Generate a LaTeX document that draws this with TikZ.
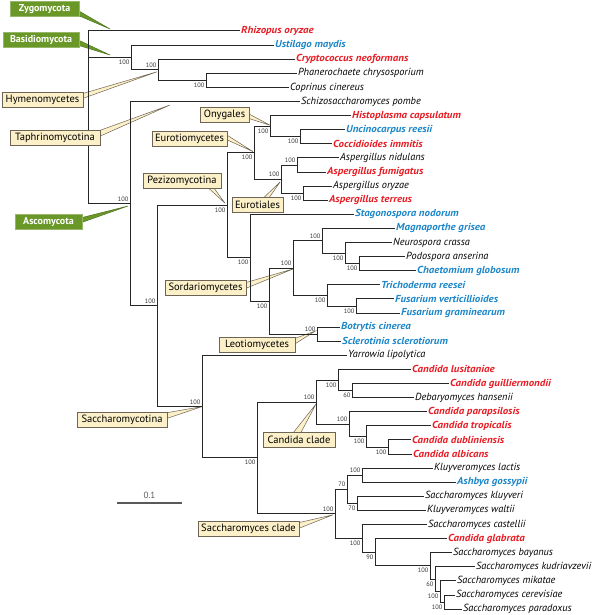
\documentclass[tikz,border=0pt]{standalone}
\usepackage{fontspec}
\setmainfont{PT Sans}
\newfontfamily\spwide{PT Sans}[FakeStretch=1.08]
\usetikzlibrary{calc,backgrounds}
\definecolor{pathred}{RGB}{232,28,36}
\definecolor{plantblue}{RGB}{28,134,200}
\definecolor{tagbeige}{RGB}{252,240,200}
\definecolor{tagedge}{RGB}{110,100,85}
\definecolor{phylgreen}{RGB}{106,152,40}

\tikzset{
  branch/.style={line width=1pt, black!85},
  plainsp/.style={anchor=west, inner sep=1pt, font=\fontsize{10.3}{11}\selectfont\itshape},
  redsp/.style={plainsp, text=pathred, font=\spwide\fontsize{10.1}{11}\selectfont\bfseries\itshape},
  bluesp/.style={plainsp, text=plantblue, font=\spwide\fontsize{10.1}{11}\selectfont\bfseries\itshape},
  boot/.style={inner xsep=1.5pt, inner ysep=2.3pt, font=\fontsize{6.4}{7}\selectfont, text=black!80},
  tag/.style={draw=tagedge, fill=tagbeige, line width=0.4pt, inner sep=0pt, minimum height=15,
    font=\fontsize{10.5}{12}\selectfont},
  phylum/.style={tag, draw=phylgreen!70!white, fill=phylgreen, text=white,
    font=\fontsize{10}{12}\selectfont\bfseries},
  tagptr/.style={fill=tagbeige, draw=tagedge, line width=0.5pt},
  phylptr/.style={fill=phylgreen, draw=phylgreen!75!black, line width=0.5pt},
}

\begin{document}
\begin{tikzpicture}[x=1pt, y=-1pt]
  \useasboundingbox (0,0) rectangle (592,615);

  % leaves, one row every 14.1
  \foreach \i/\x/\st/\nm in {
    0/240/redsp/Rhizopus oryzae, 1/274/bluesp/Ustilago maydis,
    2/295/redsp/Cryptococcus neoformans, 3/297/plainsp/Phanerochaete chrysosporium,
    4/289/plainsp/Coprinus cinereus, 5/300/plainsp/Schizosaccharomyces pombe,
    6/351/redsp/Histoplasma capsulatum, 7/345/bluesp/Uncinocarpus reesii,
    8/332/redsp/Coccidioides immitis, 9/339/plainsp/Aspergillus nidulans,
    10/326/redsp/Aspergillus fumigatus, 11/332/plainsp/Aspergillus oryzae,
    12/328/redsp/Aspergillus terreus, 13/354/bluesp/Stagonospora nodorum,
    14/395/bluesp/Magnaporthe grisea, 15/392/plainsp/Neurospora crassa,
    16/405/plainsp/Podospora anserina, 17/416/bluesp/Chaetomium globosum,
    18/380/bluesp/Trichoderma reesei, 19/394/bluesp/Fusarium verticillioides,
    20/400/bluesp/Fusarium graminearum, 21/340/bluesp/Botrytis cinerea,
    22/341/bluesp/Sclerotinia sclerotiorum, 23/347/plainsp/Yarrowia lipolytica,
    24/411/redsp/Candida lusitaniae, 25/449/redsp/Candida guilliermondii,
    26/414/plainsp/Debaryomyces hansenii, 27/427/redsp/Candida parapsilosis,
    28/431/redsp/Candida tropicalis, 29/411/redsp/Candida dubliniensis,
    30/412/redsp/Candida albicans, 31/433/plainsp/Kluyveromyces lactis,
    32/456/bluesp/Ashbya gossypii, 33/424/plainsp/Saccharomyces kluyveri,
    34/426/plainsp/Kluyveromyces waltii, 35/427/plainsp/Saccharomyces castellii,
    36/447/redsp/Candida glabrata, 37/452/plainsp/Saccharomyces bayanus,
    38/475/plainsp/Saccharomyces kudriavzevii, 39/456/plainsp/Saccharomyces mikatae,
    40/455/plainsp/Saccharomyces cerevisiae, 41/462/plainsp/Saccharomyces paradoxus}
    \node[\st] (s\i) at (\x,{31+14.1*\i}) {\nm};

  % inner nodes with bootstrap values
  \coordinate (root) at (88,117);
  \foreach \n/\x/\y/\b/\a in {
    bas/131/57.4/100/north east, hym/158/69.8/100/south east, hb/206/80.4/100/north east,
    asc/130/203.7/100/south east, ap/157/305.9/100/south east,
    pez/227/205.2/100/north east, eur/254/152.6/100/north east,
    ony/270/126.2/100/north east, ony2/300/136.8/100/north east,
    eut/281/179.1/100/south east, asp1/297/165/100/south east, asp2/303/193.2/100/north east,
    pz2/250/257.7/100/north east, sl/269/301.1/100/north east,
    sor/293/268/100/south east, sor1/322/240.7/100/south east,
    sor3/345/253.1/100/north east, sor4/359/263.7/100/north east,
    sor2/327/295.4/100/north east, fus/356/306/100/north east, leo/317/334.2/100/south east,
    sac/202/406.6/100/south east, sc/257/457.9/100/north east,
    cc/316/402/100/south east, cc1/338/380/100/north east, cc3/352/390.6/60/north east,
    cc2/349/424/100/south east, cc4/366/436.4/100/north east, cc5/388/447/100/north east,
    scc/335/513.8/100/south east, k/347/489.3/70/south east, k1/362/475.2/100/south east,
    k2/357/503.4/70/north east, g/362/538.4/100/north east, g1/375/552.3/90/north east,
    g2/430/565.9/100/north east, g3/435/579.1/60/north east, g4/440/591.5/100/north east,
    g5/444/602.1/100/north east}
  {
    \coordinate (\n) at (\x,\y);
    \node[boot,anchor=\a] at (\n) {\b};
  }

  % branches
  \foreach \p/\c in {
    root/s0.west, root/bas, root/asc, bas/s1.west, bas/hym, hym/s2.west, hym/hb,
    hb/s3.west, hb/s4.west, asc/s5.west, asc/ap, ap/pez, ap/sac,
    pez/eur, pez/pz2, eur/ony, eur/eut, ony/s6.west, ony/ony2, ony2/s7.west, ony2/s8.west,
    eut/asp1, eut/asp2, asp1/s9.west, asp1/s10.west, asp2/s11.west, asp2/s12.west,
    pz2/s13.west, pz2/sl, sl/sor, sl/leo, sor/sor1, sor/sor2, sor1/s14.west, sor1/sor3,
    sor3/s15.west, sor3/sor4, sor4/s16.west, sor4/s17.west, sor2/s18.west, sor2/fus,
    fus/s19.west, fus/s20.west, leo/s21.west, leo/s22.west,
    sac/s23.west, sac/sc, sc/cc, sc/scc, cc/cc1, cc/cc2, cc1/s24.west, cc1/cc3,
    cc3/s25.west, cc3/s26.west, cc2/s27.west, cc2/cc4, cc4/s28.west, cc4/cc5,
    cc5/s29.west, cc5/s30.west, scc/k, scc/g, k/k1, k/k2, k1/s31.west, k1/s32.west,
    k2/s33.west, k2/s34.west, g/s35.west, g/g1, g1/s36.west, g1/g2, g2/s37.west, g2/g3,
    g3/s38.west, g3/g4, g4/s39.west, g4/g5, g5/s40.west, g5/s41.west}
    \draw[branch] (\p) |- (\c);

  % scale bar
  \coordinate (sbL) at (117,503);
  \coordinate (sbR) at (182,503);
  \draw[line width=1.3pt, black!65] (sbL) -- node[above, font=\fontsize{9}{10}\selectfont] {0.1} (sbR);

  % callout boxes
  \node[phylum, minimum width=69] (tZyg) at (44.5,9) {Zygomycota};
  \node[phylum, minimum width=76] (tBas) at (41,39.5) {Basidiomycota};
  \node[tag, minimum width=81] (tHym) at (42.5,99.5) {Hymenomycetes};
  \node[tag, minimum width=90] (tTaph) at (55,137.5) {Taphrinomycotina};
  \node[tag, minimum width=49] (tOny) at (224.5,115) {Onygales};
  \node[tag, minimum width=75] (tEurm) at (189.5,138.5) {Eurotiomycetes};
  \node[tag, minimum width=78] (tPez) at (182,181) {Pezizomycotina};
  \node[tag, minimum width=51] (tEurt) at (257.5,205) {Eurotiales};
  \node[phylum, minimum width=67] (tAsc) at (48.5,222) {Ascomycota};
  \node[tag, minimum width=81] (tSord) at (205.5,288) {Sordariomycetes};
  \node[tag, minimum width=76] (tLeo) at (257,345) {Leotiomycetes};
  \node[tag, minimum width=90] (tSacch) at (122,420) {Saccharomycotina};
  \node[tag, minimum width=72] (tCand) at (299,440) {Candida clade};
  \node[tag, minimum width=101] (tSacc) at (248.5,528.5) {Saccharomyces clade};

  % pointer tips
  \coordinate (zygTip) at (110,29);
  \coordinate (basTip) at (110,55);
  \coordinate (taphTip) at (170,105);
  \coordinate (ascTip) at (128,206);

  \begin{pgfonlayer}{background}
    \draw[phylptr] ($(tZyg.east)+(-2,1)$) -- (zygTip) -- ($(tZyg.east)+(-2,6)$) -- cycle;
    \draw[phylptr] ($(tBas.east)+(-2,0)$) -- (basTip) -- ($(tBas.east)+(-2,5.5)$) -- cycle;
    \draw[phylptr] ($(tAsc.east)+(-2,-4)$) -- (ascTip) -- ($(tAsc.east)+(-2,1)$) -- cycle;
    \draw[tagptr] ($(tHym.east)+(-2,-5.5)$) -- ($(hym)+(-1,2)$) -- ($(tHym.east)+(-2,-0.5)$) -- cycle;
    \draw[tagptr] ($(tTaph.east)+(-2,-6.5)$) -- (taphTip) -- ($(tTaph.east)+(-2,-0.5)$) -- cycle;
    \draw[tagptr] ($(tOny.east)+(-2,-2)$) -- ($(ony)+(0,-1)$) -- ($(tOny.east)+(-2,3)$) -- cycle;
    \draw[tagptr] ($(tEurm.east)+(-2,-4.5)$) -- ($(eur)+(-1,-1)$) -- ($(tEurm.east)+(-2,0.5)$) -- cycle;
    \draw[tagptr] ($(tPez.south)+(25,-2)$) -- ($(pez)+(-2,-2)$) -- ($(tPez.south)+(31,-2)$) -- cycle;
    \draw[tagptr] ($(tEurt.north)+(4.5,2)$) -- ($(eut)+(-1,3)$) -- ($(tEurt.north)+(10.5,2)$) -- cycle;
    \draw[tagptr] ($(tSord.east)+(-2,-5)$) -- ($(sor)+(0,1)$) -- ($(tSord.east)+(-2,1)$) -- cycle;
    \draw[tagptr] ($(tLeo.east)+(-2,-6)$) -- ($(leo)+(-2,-3)$) -- ($(tLeo.east)+(-2,0)$) -- cycle;
    \draw[tagptr] ($(tSacch.east)+(-2,-7)$) -- (sac) -- ($(tSacch.east)+(-2,-1)$) -- cycle;
    \draw[tagptr] ($(tCand.north)+(-7,2)$) -- ($(cc)+(0,2)$) -- ($(tCand.north)+(1,2)$) -- cycle;
    \draw[tagptr] ($(tSacc.east)+(-2,-5.5)$) -- ($(scc)+(-2,1)$) -- ($(tSacc.east)+(-2,0.5)$) -- cycle;
  \end{pgfonlayer}
\end{tikzpicture}
\end{document}
